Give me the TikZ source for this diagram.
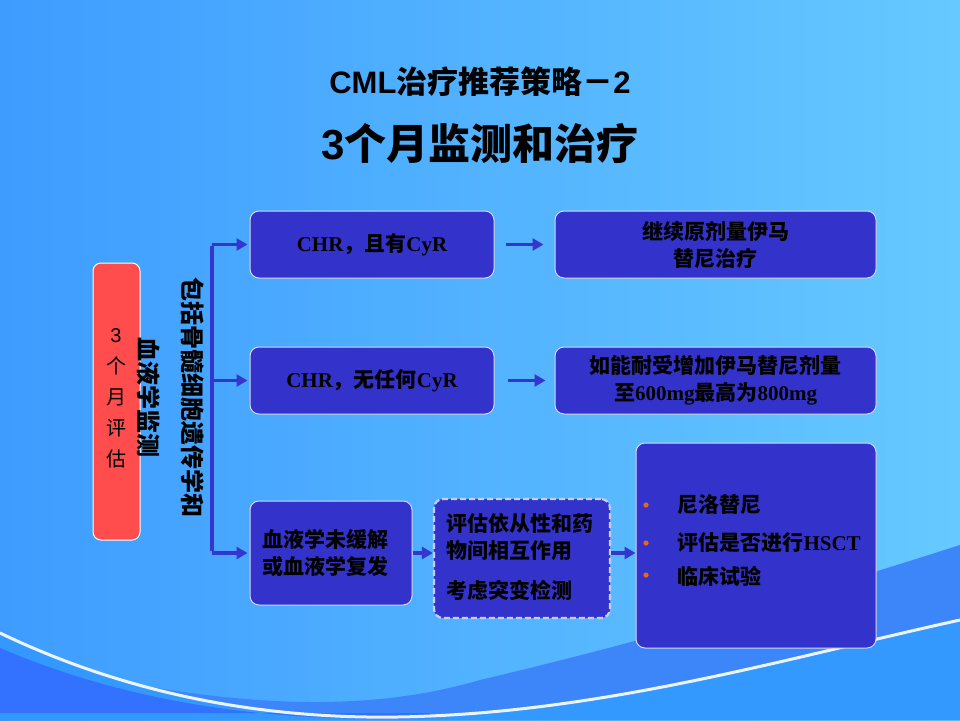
\documentclass[tikz,border=0pt]{standalone}
\usepackage{fontspec}
\setmainfont{Noto Sans CJK SC}
\newfontfamily\latinsans{Liberation Sans}
\newfontfamily\latinserif{Liberation Serif}
\usetikzlibrary{arrows.meta}
\definecolor{bgL}{HTML}{3E9CFF}
\definecolor{bgR}{HTML}{66C9FF}
\definecolor{boxblue}{HTML}{3333CC}
\definecolor{arrblue}{HTML}{3535D0}
\definecolor{redbox}{HTML}{FF4D4D}
\definecolor{bullet}{HTML}{E8661A}
\definecolor{swdark}{HTML}{3D86FA}
\definecolor{swmid}{HTML}{3399FF}
\definecolor{swleft}{HTML}{3372FF}
\begin{document}
\begin{tikzpicture}[x=1pt,y=-1pt,
  box/.style={draw=white!80!boxblue, line width=1pt, fill=boxblue, rounded corners=9pt, inner sep=0pt},
  dbox/.style={draw=white!75!boxblue, line width=2.2pt, dash pattern=on 6pt off 3pt, fill=boxblue, rounded corners=9pt, inner sep=0pt},
  arr/.style={draw=arrblue, line width=3.5pt, -{Triangle[length=11pt,width=12pt]}},
  trunk/.style={draw=arrblue, line width=3.5pt},
  btxt/.style={font=\fontsize{21}{27}\selectfont\bfseries, text=black},
  titleA/.style={font=\fontsize{31}{34}\selectfont\bfseries, text=black},
  titleB/.style={font=\fontsize{42}{46}\selectfont\bfseries, text=black}
]
% background
\useasboundingbox (0,0) rectangle (960,720);
\shade[left color=bgL, right color=bgR] (0,0) rectangle (960,720);
\fill[swdark] (0,655) .. controls (200,705) and (350,718) .. (480,680) .. controls (650,640) and (820,590) .. (960,545) -- (960,720) -- (0,720) -- cycle;
\fill[swmid] (0,633) .. controls (150,705) and (300,722) .. (430,716) .. controls (620,708) and (800,655) .. (960,620) -- (960,720) -- (0,720) -- cycle;
\fill[swleft] (0,648) .. controls (150,712) and (300,722) .. (430,718) -- (430,713) -- (0,713) -- cycle;
\draw[white, line width=3pt, opacity=0.9] (0,633) .. controls (150,705) and (300,722) .. (430,716) .. controls (620,708) and (800,655) .. (960,620);

% titles
\node[titleA] (t1) at (480,82) {{\latinsans CML}治疗推荐策略－{\latinsans 2}};
\node[titleB] (t2) at (480,143) {{\latinsans 3}个月监测和治疗};

% left column
\node[box, draw=white, fill=redbox, minimum width=47pt, minimum height=277pt, rounded corners=8pt] (red) at (116.5,401.5) {};
\node[font=\fontsize{20}{31}\selectfont, align=center, text=black] (redtxt) at (116,398.5) {{\latinsans 3}\\个\\月\\评\\估};
\node[rotate=-90, align=center, font=\fontsize{24}{44}\selectfont\bfseries, text=black] (vert) at (171,397) {包括骨髓细胞遗传学和\\血液学监测};

% boxes
\node[box, minimum width=244pt, minimum height=67pt] (b1) at (372,244.5) {};
\node[btxt] at (b1.center) {{\latinserif CHR}，且有{\latinserif CyR}};
\node[box, minimum width=244pt, minimum height=67pt] (b2) at (372,380.5) {};
\node[btxt] at (b2.center) {{\latinserif CHR}，无任何{\latinserif CyR}};
\node[box, minimum width=321pt, minimum height=67pt] (r1) at (715.5,244.5) {};
\node[btxt, align=center] at (r1.center) {继续原剂量伊马\\替尼治疗};
\node[box, minimum width=321pt, minimum height=67pt] (r2) at (715.5,380.5) {};
\node[btxt, align=center] at (r2.center) {如能耐受增加伊马替尼剂量\\至{\latinserif 600mg}最高为{\latinserif 800mg}};
\node[box, minimum width=162pt, minimum height=104pt] (b3) at (331,553) {};
\node[btxt, align=left, anchor=west] at (259,553.5) {血液学未缓解\\或血液学复发};
\node[dbox, minimum width=176pt, minimum height=119pt] (b4) at (522,558.5) {};
\node[btxt, align=left, anchor=north west] at (443,510) {评估依从性和药\\物间相互作用};
\node[btxt, anchor=west] at (443,590) {考虑突变检测};
\node[box, minimum width=240pt, minimum height=205pt] (b5) at (756,545.5) {};
\fill[bullet] (646,505) circle (2.6pt);
\fill[bullet] (646,543) circle (2.6pt);
\fill[bullet] (646,575) circle (2.6pt);
\node[btxt, anchor=west] at (674,505) {尼洛替尼};
\node[btxt, anchor=west] at (674,543) {评估是否进行{\latinserif HSCT}};
\node[btxt, anchor=west] at (674,576) {临床试验};

% connectors
\coordinate (tTop) at (212,244.5);
\coordinate (tBot) at (212,553);
\draw[trunk] ([yshift=-1.75pt]tTop) -- ([yshift=1.75pt]tBot);
\draw[arr, shorten >=2pt] (tTop) -- (b1.west);
\draw[arr, shorten >=2pt] (tTop |- b2.west) -- (b2.west);
\draw[arr, shorten >=2pt] (tBot) -- (b3.west);
\draw[arr] ([xshift=11pt]b1.east) -- ([xshift=-11pt]r1.west);
\draw[arr] ([xshift=13pt]b2.east) -- ([xshift=-9pt]r2.west);
\draw[arr] (b3.east) -- (b3.east -| b4.west);
\draw[arr] (b3.east -| b4.east) -- (b3.east -| b5.west);
\end{tikzpicture}
\end{document}
